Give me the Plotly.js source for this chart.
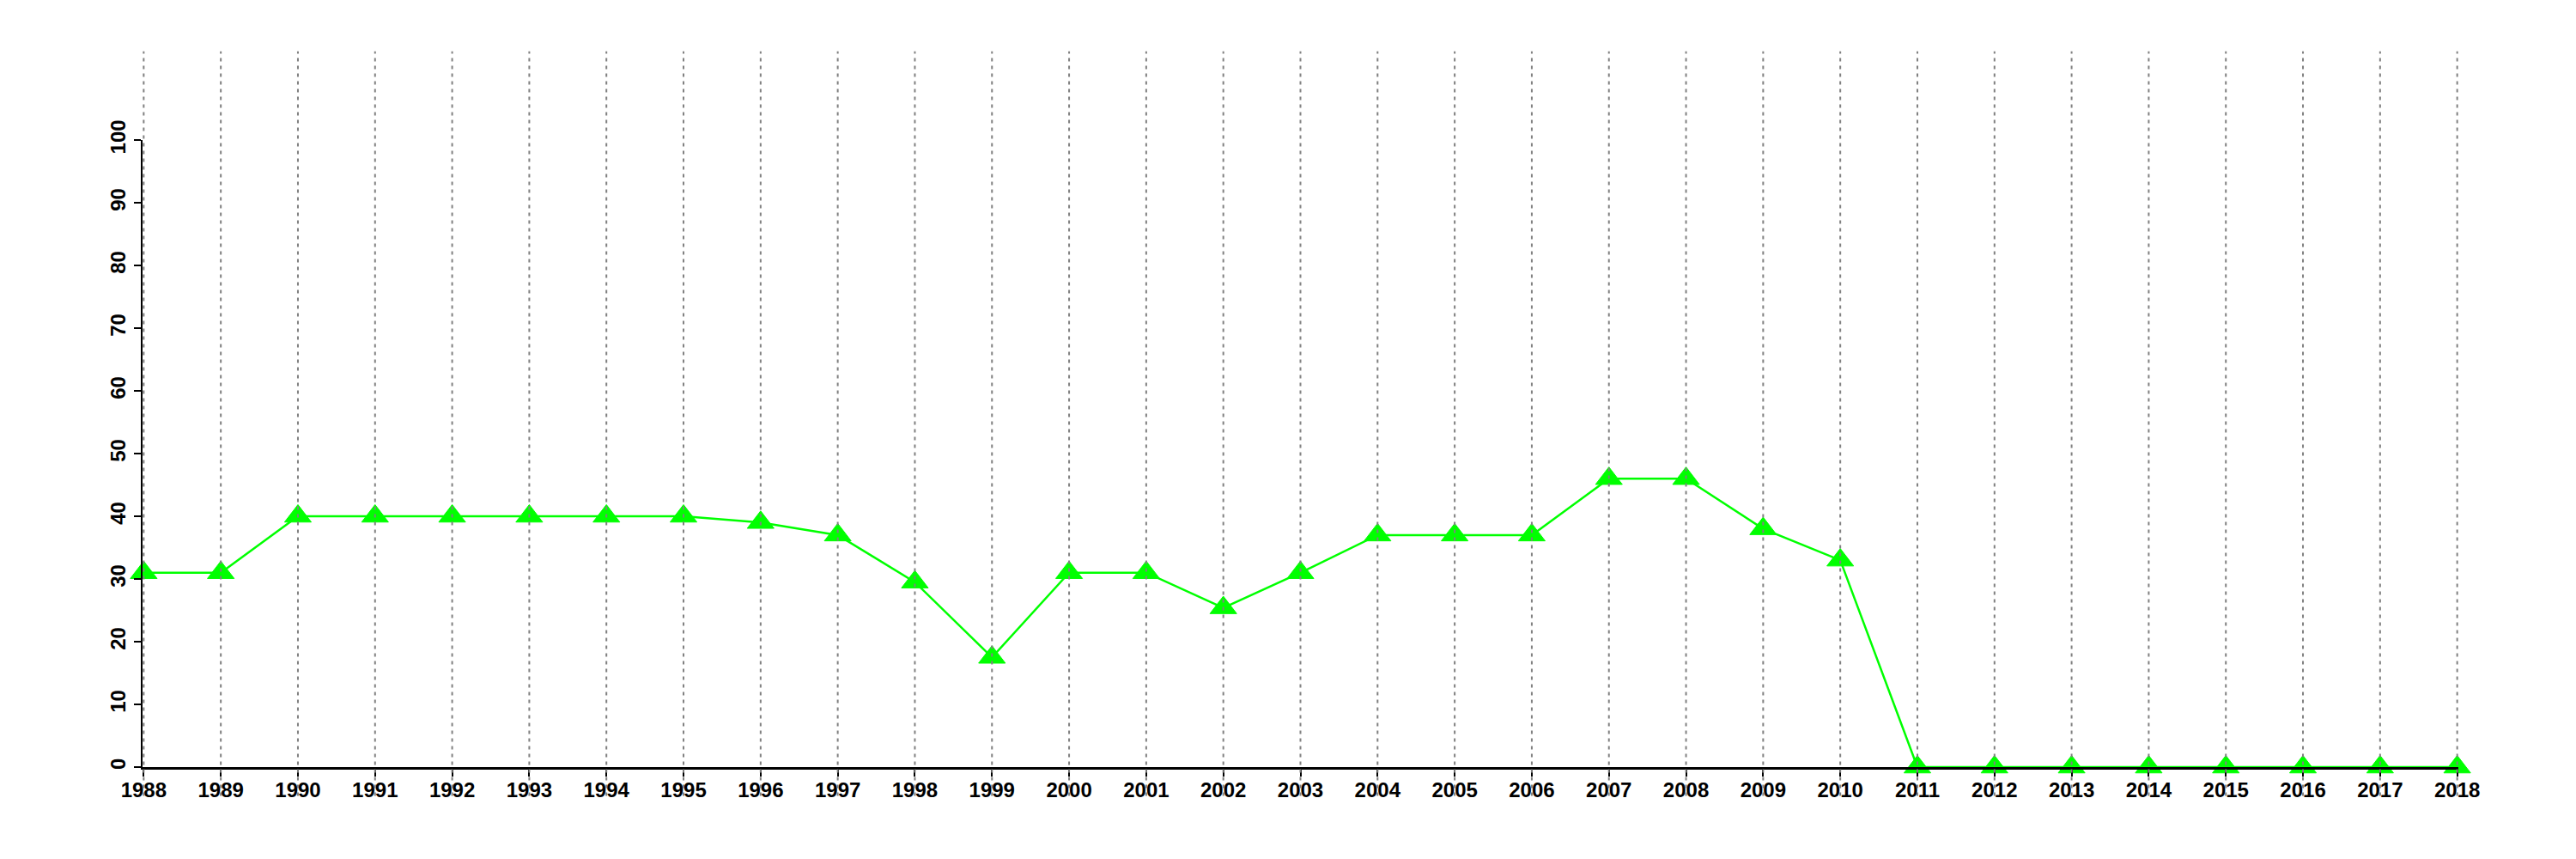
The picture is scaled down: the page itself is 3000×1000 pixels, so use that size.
<!DOCTYPE html>
<html>
<head>
<meta charset="utf-8">
<script src="https://cdn.plot.ly/plotly-3.0.1.min.js"></script>
<style>html,body{margin:0;padding:0;background:#fff;}#chart{width:3000px;height:1000px;}</style>
</head>
<body>
<div id="chart"></div>
<script>
const years = [1988,1989,1990,1991,1992,1993,1994,1995,1996,1997,1998,1999,2000,2001,2002,2003,2004,2005,2006,2007,2008,2009,2010,2011,2012,2013,2014,2015,2016,2017,2018];
const values = [31,31,40,40,40,40,40,40,39,37,29.5,17.5,31,31,25.4,31,37,37,37,46,46,38,33,0,0,0,0,0,0,0,0];
const yTicks = [0,10,20,30,40,50,60,70,80,90,100];

const font = {family: 'Liberation Sans, Arial, sans-serif', size: 24, color: '#000', weight: 'bold'};

const gridShapes = years.map(y => ({
  type: 'line', xref: 'x', yref: 'paper',
  x0: y, x1: y, y0: -0.046, y1: 1.1415,
  line: {color: '#808080', width: 2, dash: '4px,5px'},
  layer: 'above'
}));

const trace = {
  x: years, y: values, type: 'scatter', mode: 'lines+markers',
  line: {color: '#00ff00', width: 2.5},
  marker: {symbol: 'triangle-up', size: 27, color: '#00ff00', line: {color: '#00ff00', width: 1}},
  cliponaxis: false,
  hoverinfo: 'skip'
};

const layout = {
  width: 3000, height: 1000,
  margin: {l: 166, r: 137, t: 163, b: 107, pad: 0},
  paper_bgcolor: '#fff', plot_bgcolor: '#fff',
  showlegend: false,
  font: font,
  xaxis: {
    range: [1987.985, 2018.015], tickmode: 'array', tickvals: years, ticktext: years.map(String),
    showgrid: false, zeroline: false, showline: true, linecolor: '#000', linewidth: 2.5,
    ticks: 'outside', ticklen: 8, tickwidth: 2, tickcolor: '#000',
    tickfont: font, tickangle: 0, ticklabelstandoff: -4
  },
  yaxis: {
    range: [0, 100], tickmode: 'array', tickvals: yTicks, ticktext: yTicks.map(String),
    showgrid: false, zeroline: false, showline: true, linecolor: '#000', linewidth: 2.5,
    ticks: 'outside', ticklen: 8, tickwidth: 2, tickcolor: '#000',
    tickfont: font, tickangle: -90
  },
  shapes: gridShapes
};

Plotly.newPlot('chart', [trace], layout, {displayModeBar: false, staticPlot: true});
</script>
</body>
</html>
